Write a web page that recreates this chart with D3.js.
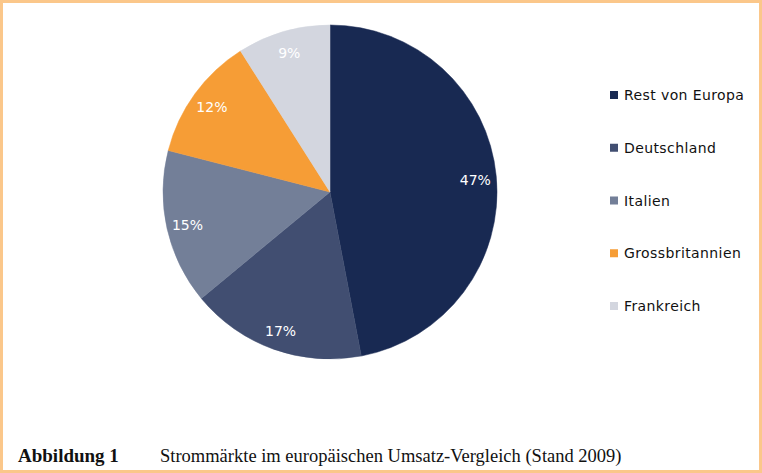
<!DOCTYPE html>
<html lang="de">
<head>
    <meta charset="UTF-8">
    <title>Strommärkte</title>
    <script src="https://cdnjs.cloudflare.com/ajax/libs/d3/7.8.5/d3.min.js"></script>
    <style>
        body {
            margin: 0;
            background: #fff;
        }

        svg {
            display: block;
        }

        .slice-label {
            font-family: "DejaVu Sans", sans-serif;
            font-size: 14px;
            fill: #fff;
        }

        .legend-label {
            font-family: "DejaVu Sans", sans-serif;
            font-size: 14px;
            fill: #111;
            letter-spacing: 0.4px;
        }

        .caption {
            font-family: "Liberation Serif", serif;
            font-size: 18.5px;
            fill: #111;
        }
    </style>
</head>
<body>
<div id="chart"></div>

<script>
    let width = 762;
    let height = 473;

    let categories = ["Rest von Europa", "Deutschland", "Italien", "Grossbritannien", "Frankreich"];
    let shares = [47, 17, 15, 12, 9];
    let colors = ["#182952", "#414e71", "#737f98", "#f69d36", "#d3d6df"];

    let captionLabel = "Abbildung 1";
    let captionText = "Strommärkte im europäischen Umsatz-Vergleich (Stand 2009)";

    let cx = 330;
    let cy = 192;
    let radius = 167;
    let labelRadius = 146;

    let svg = d3.select("#chart")
        .append("svg")
        .attr("width", width)
        .attr("height", height);

    // frame round the figure
    svg.append("rect")
        .attr("x", 1.5)
        .attr("y", 1.5)
        .attr("width", width - 3)
        .attr("height", height - 3)
        .attr("fill", "none")
        .attr("stroke", "#fbc78a")
        .attr("stroke-width", 3);

    let data = categories.map(function (name, i) {
        return {name: name, value: shares[i]};
    });

    let color = d3.scaleOrdinal()
        .domain(categories)
        .range(colors);

    let pie = d3.pie()
        .sort(null)
        .value(function (d) { return d.value; });

    let arc = d3.arc()
        .innerRadius(0)
        .outerRadius(radius);

    let labelArc = d3.arc()
        .innerRadius(labelRadius)
        .outerRadius(labelRadius);

    let g = svg.append("g")
        .attr("transform", "translate(" + cx + "," + cy + ")");

    let arcs = pie(data);

    g.selectAll("path")
        .data(arcs)
        .enter()
        .append("path")
        .attr("d", arc)
        .attr("fill", function (d) { return color(d.data.name); })
        .attr("stroke", function (d) { return color(d.data.name); })
        .attr("stroke-width", 0.5);

    g.selectAll(".slice-label")
        .data(arcs)
        .enter()
        .append("text")
        .attr("class", "slice-label")
        .attr("transform", function (d) { return "translate(" + labelArc.centroid(d) + ")"; })
        .attr("text-anchor", "middle")
        .attr("dy", "0.45em")
        .text(function (d) { return d.data.value + "%"; });

    // legend
    let legendY = d3.scalePoint()
        .domain(categories)
        .range([95, 306]);

    let legend = svg.append("g")
        .selectAll("g")
        .data(categories)
        .enter()
        .append("g")
        .attr("transform", function (d) { return "translate(610," + legendY(d) + ")"; });

    legend.append("rect")
        .attr("x", 0)
        .attr("y", -4)
        .attr("width", 8)
        .attr("height", 8)
        .attr("fill", function (d) { return color(d); });

    legend.append("text")
        .attr("class", "legend-label")
        .attr("x", 14)
        .attr("dy", "0.36em")
        .text(function (d) { return d; });

    // caption
    svg.append("text")
        .attr("class", "caption")
        .attr("x", 18)
        .attr("y", 462)
        .attr("font-weight", "bold")
        .style("font-size", "19px")
        .text(captionLabel);

    svg.append("text")
        .attr("class", "caption")
        .attr("x", 160)
        .attr("y", 462)
        .text(captionText);
</script>
</body>
</html>
